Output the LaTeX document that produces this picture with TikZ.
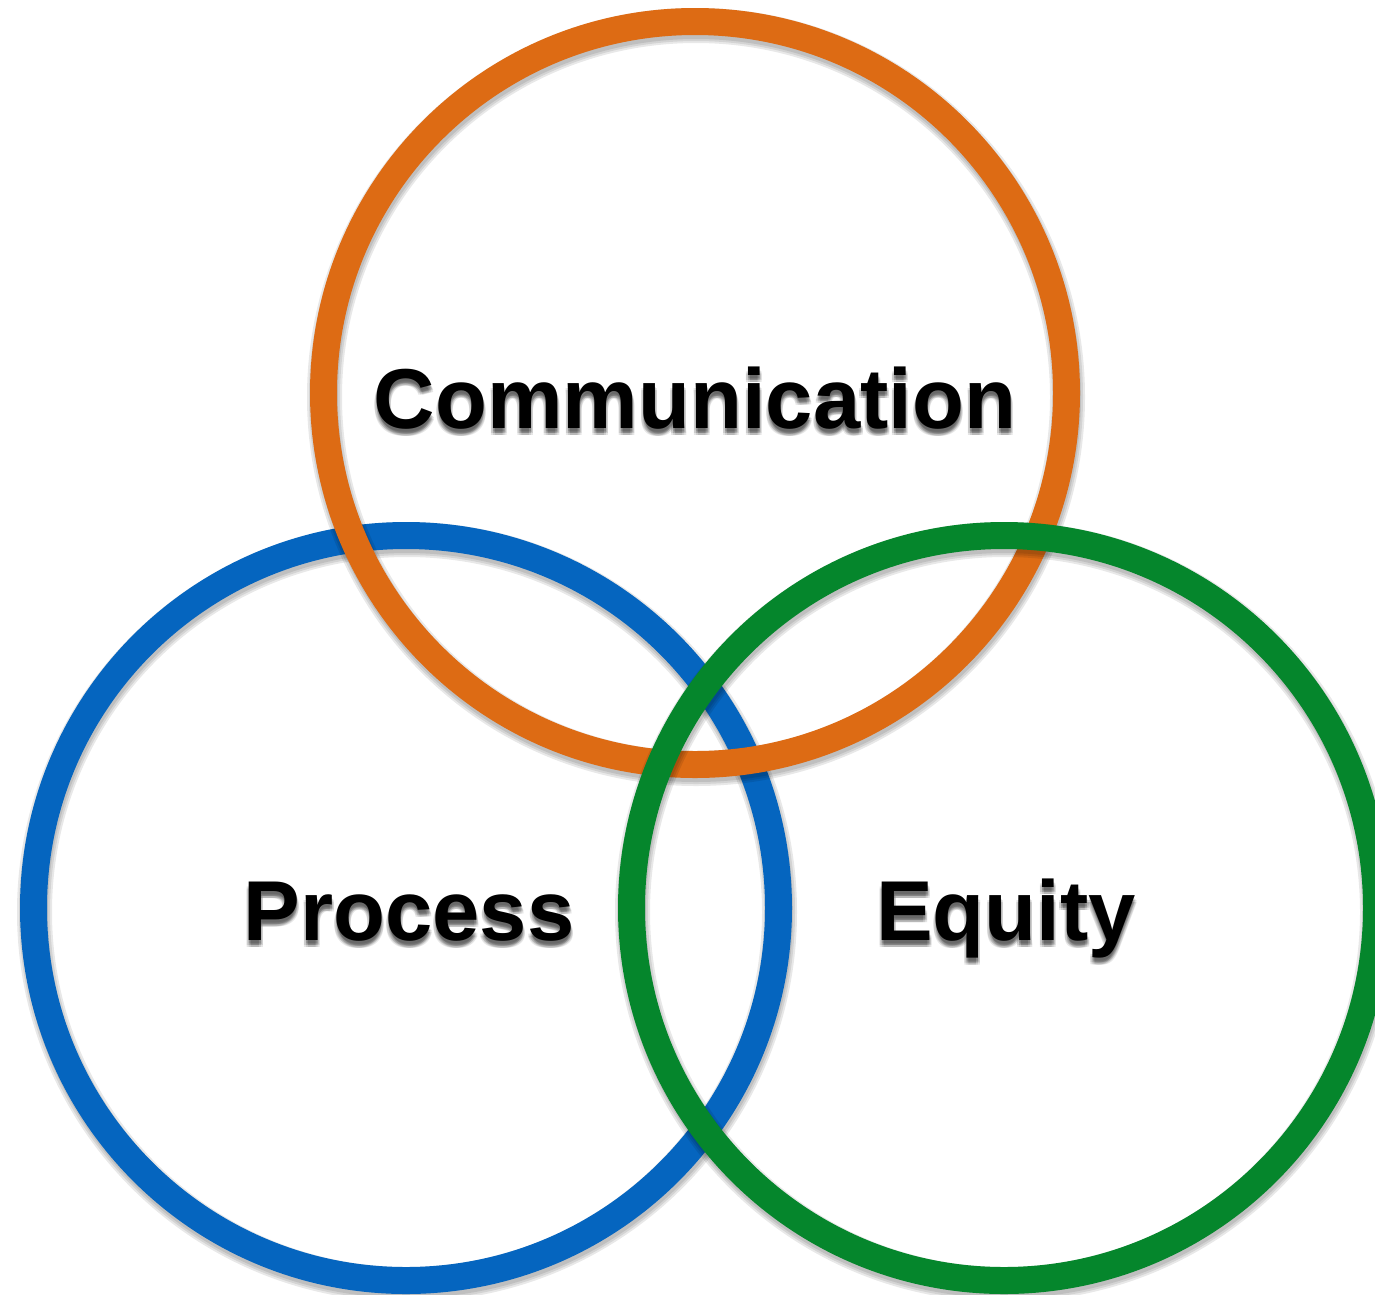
\documentclass[tikz,border=0pt]{standalone}
\usepackage{fontspec}
\setmainfont{Liberation Sans}
\usetikzlibrary{calc}
\definecolor{corange}{HTML}{DD6B14}
\definecolor{cblue}{HTML}{0565BF}
\definecolor{cgreen}{HTML}{05862C}
\tikzset{
  ring/.style={line width=27pt},
  ringshadow/.style={line width=#1, black, opacity=0.09},
  lbl/.style={font=\fontsize{85}{90}\selectfont\bfseries, inner sep=0pt, anchor=base},
  lblshadow/.style={lbl, text=black, opacity=0.10},
}
\begin{document}
\begin{tikzpicture}[x=1pt,y=-1pt]
\useasboundingbox (0,0) rectangle (1375,1294);
\clip (0,0) rectangle (1375,1294);
\fill[white] (0,0) rectangle (1375,1294);
\coordinate (cb) at (406,908);
\coordinate (co) at (695,393);
\coordinate (cg) at (1004,908);
% blue, then orange, then green on top
\foreach \w in {27pt,31pt,35pt}{\draw[ringshadow=\w] ($(cb)+(1,4)$) circle (372.5);}
\draw[ring, cblue] (cb) circle (372.5);
\foreach \w in {27pt,31pt,35pt}{\draw[ringshadow=\w] ($(co)+(1,4)$) circle (371.5);}
\draw[ring, corange] (co) circle (371.5);
\foreach \w in {27pt,31pt,35pt}{\draw[ringshadow=\w] ($(cg)+(1,4)$) circle (372.5);}
\draw[ring, cgreen] (cg) circle (372.5);
% labels with soft shadow
\foreach \dx/\dy in {0/5,2/5,-2/5,0/7,0/3,2/7,-2/7,1/4}{
  \node[lblshadow] at ($(695,428)+(\dx,\dy)$) {Communication};
  \node[lblshadow] at ($(409,940)+(\dx,\dy)$) {Process};
  \node[lblshadow] at ($(1006,940)+(\dx,\dy)$) {Equity};
}
\node[lbl] (comm) at (695,428) {Communication};
\node[lbl] (proc) at (409,940) {Process};
\node[lbl] (equi) at (1006,940) {Equity};
\end{tikzpicture}
\end{document}
